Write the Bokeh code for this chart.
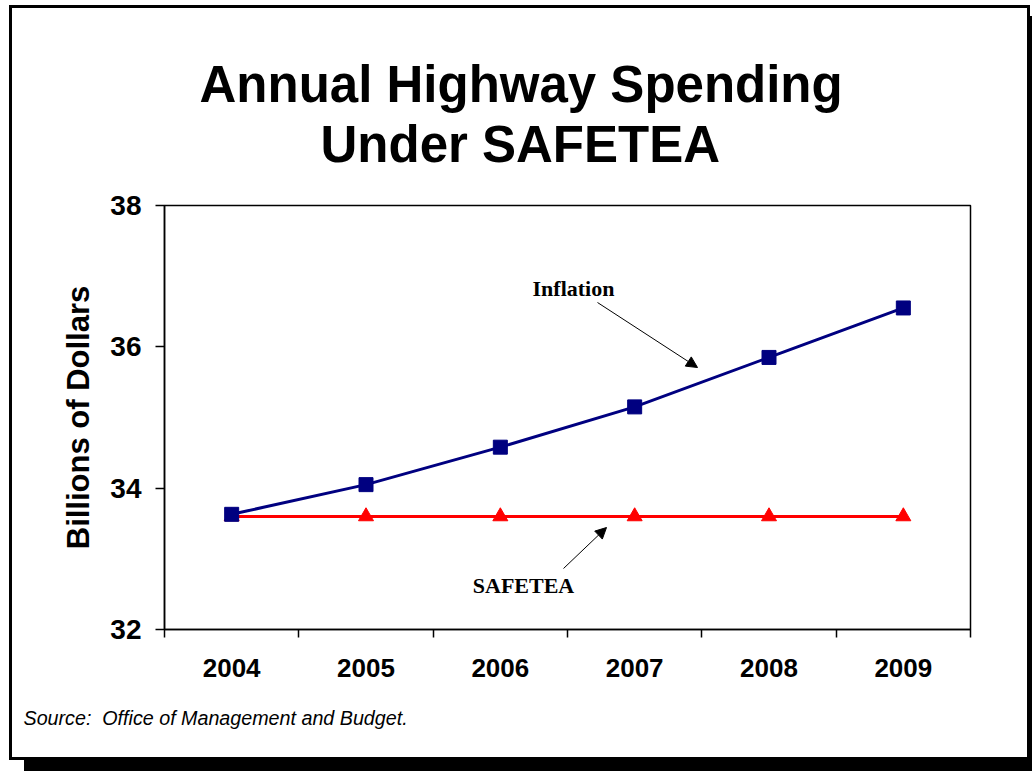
from bokeh.plotting import figure
from bokeh.models import FixedTicker, Label, Arrow, NormalHead, Range1d, Title
from bokeh.embed import file_html
from bokeh.resources import INLINE

years = [2004, 2005, 2006, 2007, 2008, 2009]
inflation = [33.63, 34.05, 34.58, 35.15, 35.85, 36.55]
safetea = [33.6, 33.6, 33.6, 33.6, 33.6, 33.6]
y_ticks = [32, 34, 36, 38]
title_lines = ["Annual Highway Spending", "Under SAFETEA"]
y_label = "Billions of Dollars"
source_text = "Source:\u00a0 Office of Management and Budget."

W, H = 1032, 771
FL, FR, FT, FB = 164, 970, 205, 629  # plot frame in canvas px
x0, x1 = years[0] - 0.5, years[-1] + 0.5
y0, y1 = 32, 38

# outer slide frame with drop shadow, drawn as CSS background rectangles
rects = [
    (9, 5, 1021, 3), (9, 5, 3, 755), (1027, 5, 3, 755), (9, 757, 1021, 3),
    (24, 760, 1008, 11), (1030, 16, 2, 755),
]
bg = ", ".join(f"linear-gradient(#000, #000) {x}px {y}px / {w}px {h}px no-repeat"
               for x, y, w, h in rects) + ", #ffffff"

p = figure(width=W, height=H, output_backend="svg", toolbar_location=None,
           x_range=Range1d(x0, x1), y_range=Range1d(y0, y1),
           min_border_left=FL, min_border_right=W - FR,
           min_border_top=FT, min_border_bottom=H - FB,
           styles={"background": bg})
p.background_fill_color = "white"
p.border_fill_color = None
p.outline_line_color = "black"
p.outline_line_width = 1.5
p.xgrid.visible = False
p.ygrid.visible = False

def dx(px):
    return x0 + (px - FL) * (x1 - x0) / (FR - FL)

def dy(py):
    return y0 + (FB - py) * (y1 - y0) / (FB - FT)

# axes
xa = p.xaxis[0]
xa.ticker = FixedTicker(ticks=years, minor_ticks=[y - 0.5 for y in years] + [years[-1] + 0.5])
xa.major_tick_line_color = None
xa.minor_tick_out = 8
xa.minor_tick_in = 0
xa.minor_tick_line_color = "black"
xa.minor_tick_line_width = 1.5
xa.axis_line_width = 1.5
xa.major_label_text_font = "Liberation Sans"
xa.major_label_text_font_style = "bold"
xa.major_label_text_font_size = "26px"
xa.major_label_text_color = "black"
xa.major_label_standoff = 21

ya = p.yaxis[0]
ya.ticker = FixedTicker(ticks=y_ticks, minor_ticks=[])
ya.major_tick_out = 9
ya.major_tick_in = 0
ya.major_tick_line_width = 1.5
ya.axis_line_width = 1.5
ya.major_label_text_font = "Liberation Sans"
ya.major_label_text_font_style = "bold"
ya.major_label_text_font_size = "28px"
ya.major_label_text_color = "black"
ya.major_label_standoff = 14
ya.axis_label = y_label
ya.axis_label_text_font = "Liberation Sans"
ya.axis_label_text_font_style = "bold"
ya.axis_label_text_font_size = "31px"
ya.axis_label_text_color = "black"
ya.axis_label_standoff = 11

# series
p.line(years, safetea, line_color="#FF0000", line_width=3)
p.scatter(years, safetea, marker="triangle", size=15, fill_color="#FF0000", line_color="#FF0000")
p.line(years, inflation, line_color="#000080", line_width=3)
p.scatter(years, inflation, marker="square", size=14, fill_color="#000080", line_color="#000080")

# callouts
p.add_layout(Label(x=dx(573), y=dy(288), text="Inflation", text_font="Liberation Serif",
                   text_font_style="bold", text_font_size="22px", text_align="center",
                   text_baseline="middle", text_color="black"))
p.add_layout(Arrow(x_start=dx(597), y_start=dy(302), x_end=dx(697), y_end=dy(367),
                   line_width=1, line_color="black",
                   end=NormalHead(size=11, fill_color="black", line_color="black")))
p.add_layout(Label(x=dx(523), y=dy(585), text="SAFETEA", text_font="Liberation Serif",
                   text_font_style="bold", text_font_size="22px", text_align="center",
                   text_baseline="middle", text_color="black"))
p.add_layout(Arrow(x_start=dx(563), y_start=dy(568), x_end=dx(606), y_end=dy(527),
                   line_width=1, line_color="black",
                   end=NormalHead(size=11, fill_color="black", line_color="black")))

# title (two lines; first added sits nearest the frame)
p.add_layout(Title(text=title_lines[1], align="left", offset=156, standoff=66,
                   text_font="Liberation Sans", text_font_style="bold",
                   text_font_size="51px", text_color="black"), "above")
p.add_layout(Title(text=title_lines[0], align="left", offset=35, standoff=-64,
                   text_font="Liberation Sans", text_font_style="bold",
                   text_font_size="51px", text_color="black"), "above")

# source note
p.add_layout(Title(text=source_text, align="left", offset=23 - FL, standoff=51,
                   text_font="Liberation Sans", text_font_style="italic",
                   text_font_size="19.7px", text_color="black"), "below")

open("out.html", "w").write(file_html(p, INLINE))
